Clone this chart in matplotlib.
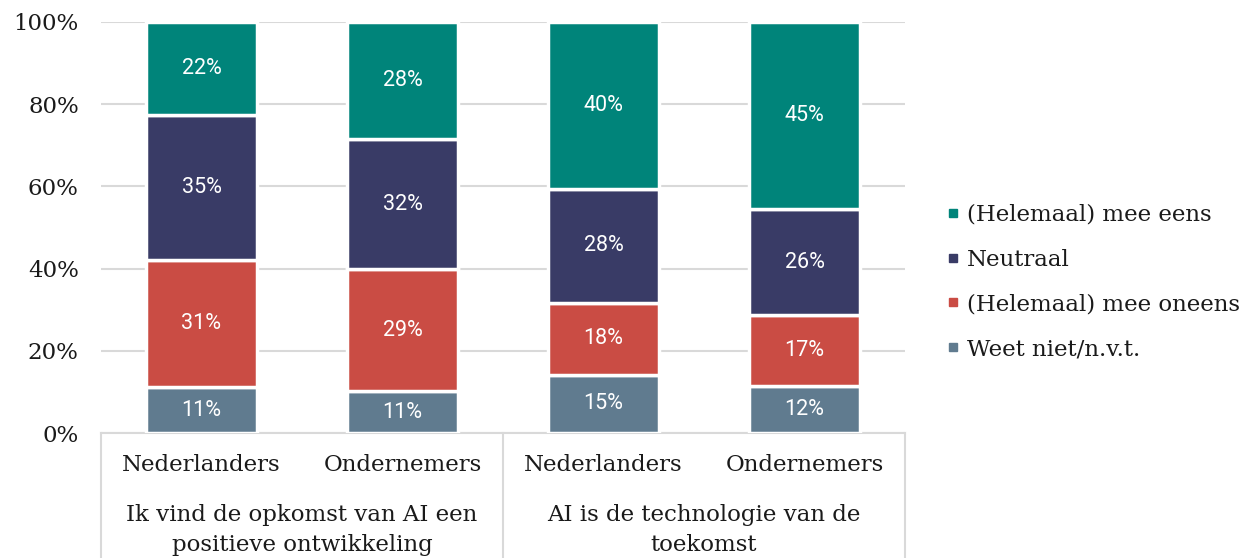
import matplotlib
matplotlib.use('Agg')
from matplotlib import pyplot as plt
from matplotlib.lines import Line2D
import numpy as np

# data (segment heights in %)
bars = ['Nederlanders', 'Ondernemers', 'Nederlanders', 'Ondernemers']
groups = ['Ik vind de opkomst van AI een\npositieve ontwikkeling',
          'AI is de technologie van de\ntoekomst']

weet_niet = [11.1, 10.1, 14.2, 11.4]
oneens = [31.0, 29.7, 17.5, 17.2]
neutraal = [35.3, 31.8, 27.7, 25.9]
eens = [22.6, 28.4, 40.6, 45.5]

weet_niet_lbl = ['11%', '11%', '15%', '12%']
oneens_lbl = ['31%', '29%', '18%', '17%']
neutraal_lbl = ['35%', '32%', '28%', '26%']
eens_lbl = ['22%', '28%', '40%', '45%']

series = [
    ('Weet niet/n.v.t.', weet_niet, weet_niet_lbl, '#607b8f'),
    ('(Helemaal) mee oneens', oneens, oneens_lbl, '#ca4c44'),
    ('Neutraal', neutraal, neutraal_lbl, '#393b66'),
    ('(Helemaal) mee eens', eens, eens_lbl, '#00847a'),
]

serif = 'DejaVu Serif'
fs = 16.5
text_color = '#1a1a1a'
grid_color = '#d9d9d9'

W, H = 1248, 558
fig = plt.figure(figsize=(W / 100, H / 100), dpi=100)
ax = fig.add_axes([101 / W, (H - 433) / H, 804 / W, 411 / H])

x = np.arange(len(bars))
bottom = np.zeros(len(bars))
for name, vals, lbls, color in series:
    vals = np.array(vals)
    ax.bar(x, vals, bottom=bottom, width=0.556, color=color,
           edgecolor='white', linewidth=2.5, zorder=3, label=name)
    for xi, b, v, t in zip(x, bottom, vals, lbls):
        ax.text(xi, b + v / 2, t, ha='center', va='center', color='white',
                fontsize=15.5, family='Roboto', zorder=4)
    bottom += vals

ax.set_xlim(-0.5, 3.5)
ax.set_ylim(0, 100)
ax.set_yticks(np.arange(0, 101, 20))
ax.set_yticklabels([f'{v}%' for v in range(0, 101, 20)],
                   family=serif, fontsize=fs, color=text_color)
ax.tick_params(axis='y', length=0, pad=16)
ax.yaxis.grid(True, color=grid_color, linewidth=1.5, zorder=0)
ax.set_axisbelow(True)
for s in ax.spines.values():
    s.set_visible(False)

ax.set_xticks(x)
ax.set_xticklabels(bars, family=serif, fontsize=fs, color=text_color)
ax.tick_params(axis='x', length=0, pad=15)

# category table lines below the axis
trans = ax.get_xaxis_transform()
ax.plot([-0.5, 3.5], [0, 0], color=grid_color, linewidth=1.5,
        transform=trans, clip_on=False, zorder=1)
for xv in [-0.5, 1.5, 3.5]:
    ax.plot([xv, xv], [0, -0.32], color=grid_color, linewidth=1.5,
            transform=trans, clip_on=False, zorder=1)

for gx, g in zip([0.5, 2.5], groups):
    ax.text(gx, -0.172, g, transform=trans, ha='center', va='top',
            family=serif, fontsize=fs, color=text_color, linespacing=1.48)

# legend, top entry first
handles = [Line2D([], [], marker='s', linestyle='none', markersize=6,
                  color=c) for _, _, _, c in series[::-1]]
labels = [n for n, _, _, _ in series[::-1]]
fig.legend(handles, labels, loc='center left',
           bbox_to_anchor=(938 / W, 1 - 282 / H), frameon=False,
           prop={'family': serif, 'size': fs}, labelcolor=text_color,
           handlelength=0.5, handletextpad=0.35, labelspacing=1.0,
           borderaxespad=0)

fig.savefig('out.png', dpi=100)
